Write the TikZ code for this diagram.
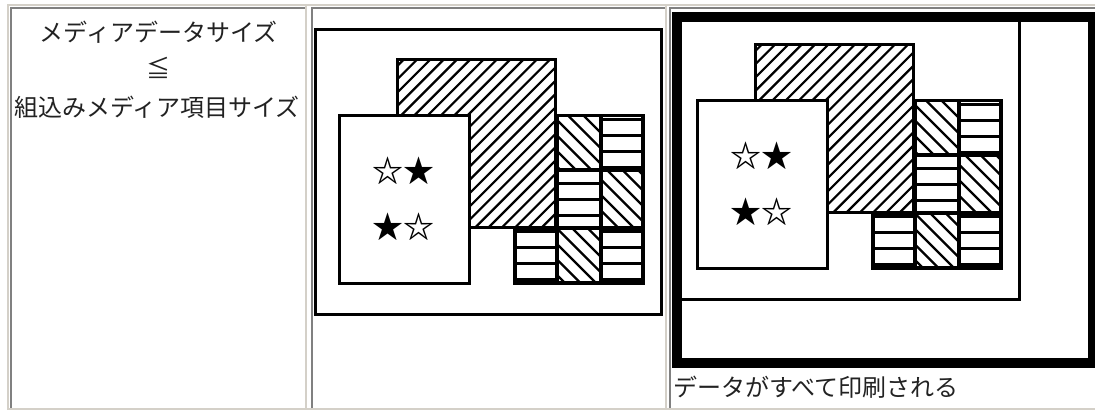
\documentclass[tikz,border=0pt]{standalone}
\usepackage{fontspec}
\newfontfamily\jpfont{Noto Sans CJK JP}
\definecolor{lightbd}{HTML}{D4D0C8}
\definecolor{darkbd}{HTML}{808080}
\definecolor{txt}{HTML}{222222}
\tikzset{
  frame/.style={draw=black, line width=3pt},
  tileborder/.style={draw=black, line width=3.1pt},
  hatchline/.style={draw=black, line width=2.2pt},
  startext/.style={inner sep=0pt, font=\jpfont\bfseries\fontsize{31}{31}\selectfont},
  celltext/.style={inner sep=0pt, text=txt, font=\jpfont\fontsize{24}{24}\selectfont},
}
\newcommand\tileH[4]{%
  \begin{scope}
    \clip (#1,#2) rectangle (#3,#4);
    \foreach \yy in {7.5,23.5,...,311.5} {\draw[hatchline] (#1-5,\yy) -- (#3+5,\yy);}
  \end{scope}
  \draw[tileborder] (#1,#2) rectangle (#3,#4);}
\newcommand\tileB[4]{%
  \begin{scope}
    \clip (#1,#2) rectangle (#3,#4);
    \foreach \cc in {220,235.5,...,560} {\draw[hatchline] (\cc+#2-5,#2-5) -- (\cc+#4+5,#4+5);}
  \end{scope}
  \draw[tileborder] (#1,#2) rectangle (#3,#4);}
\tikzset{
  scene/.pic={
    % page outline
    \draw[frame] (315,29.5) rectangle (661.5,314.5);
    % large hatched image
    \begin{scope}
      \clip (397,59.5) rectangle (555.5,227.5);
      \foreach \cc in {450,463.3,...,800} {\draw[hatchline] (\cc-50,50) -- (\cc-240,240);}
    \end{scope}
    \draw[frame] (397,59.5) rectangle (555.5,227.5);
    % card with stars
    \draw[frame, fill=white] (339.5,115.5) rectangle (469.5,283);
    \node[startext] (-s1) at (403.5,171) {☆★};
    \node[startext] (-s2) at (403.5,227) {★☆};
    % tiles
    \tileB{556.5}{115.5}{600.5}{170}
    \tileH{600.5}{115.5}{643}{170}
    \tileH{556.5}{170}{600.5}{228}
    \tileB{600.5}{170}{643}{228}
    \tileH{515}{228}{556.5}{283}
    \tileB{556.5}{228}{600.5}{283}
    \tileH{600.5}{228}{643}{283}
    \draw[line width=4pt] (556.5,115.5) -- (556.5,283) (600.5,115.5) -- (600.5,283)
      (556.5,170) -- (643,170) (515,228) -- (643,228);
  }
}
\begin{document}
\begin{tikzpicture}[x=1pt,y=-1pt]
  \useasboundingbox (0,0) rectangle (1095,412);
  \clip (0,0) rectangle (1095,412);
  \fill[white] (0,0) rectangle (1095,412);
  % table borders
  \fill[lightbd] (7,4) rectangle (1095,6);
  \fill[lightbd] (7,4) rectangle (9,410);
  \fill[lightbd] (7,408) rectangle (1095,410);
  \fill[darkbd] (10,7) rectangle (12,408);
  \fill[darkbd] (10,7) rectangle (307,9);
  \fill[lightbd] (305,4) rectangle (307,410);
  \fill[darkbd] (311,7) rectangle (313,408);
  \fill[darkbd] (311,7) rectangle (667,9);
  \fill[lightbd] (665,4) rectangle (667,410);
  \fill[darkbd] (669,7) rectangle (671,408);
  \fill[darkbd] (669,7) rectangle (1095,9);
  % cell 1 text
  \node[celltext] (t1) at (158.5,32) {メディアデータサイズ};
  \node[celltext] (t2) at (158.5,68) {≦};
  \node[celltext] (t3) at (157,107) {組込みメディア項目サイズ};
  % cell 2 and 3 scenes
  \pic (c2) at (0,0) {scene};
  \pic (c3) at (358,-15) {scene};
  % thick printable frame in cell 3
  \draw[line width=9.4pt] (677,17) rectangle (1093,362.8);
  \node[celltext, anchor=west] (t4) at (673,387) {データがすべて印刷される};
\end{tikzpicture}
\end{document}
